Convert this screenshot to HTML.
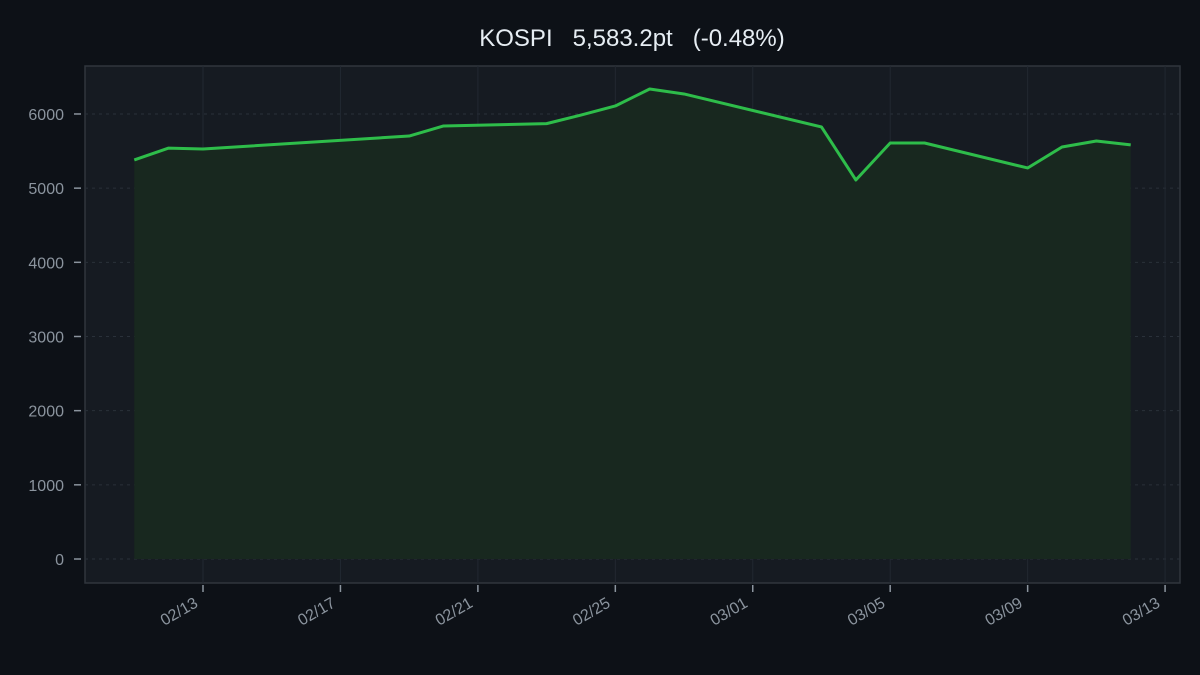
<!DOCTYPE html>
<html><head><meta charset="utf-8"><style>
html,body{margin:0;padding:0;background:#0d1117;}
svg{display:block;font-family:"Liberation Sans","Noto Sans CJK KR",sans-serif;}
</style></head><body>
<svg id="chart" width="1200" height="675">
<rect width="1200" height="675" fill="#0d1117"/>
<text x="632" y="46" fill="#e6edf3" font-size="24" text-anchor="middle" style="white-space:pre" xml:space="preserve">KOSPI   5,583.2pt   (-0.48%)</text>
<rect x="85" y="66" width="1095" height="517" fill="#161b22" stroke="#30363d" stroke-width="1.5"/>
<g id="grid"></g><g id="series"></g><g id="axes"></g>
</svg>
<script>
const dates = ["2026-02-11","2026-02-12","2026-02-13","2026-02-19","2026-02-20","2026-02-23","2026-02-24","2026-02-25","2026-02-26","2026-02-27","2026-03-03","2026-03-04","2026-03-05","2026-03-06","2026-03-09","2026-03-10","2026-03-11","2026-03-12"];
const values = [5380,5540,5528,5703,5838,5870,5985,6108,6337,6270,5825,5110,5609,5609,5272,5555,5636,5583.2];
const yTicks = [0,1000,2000,3000,4000,5000,6000];
const xTickLabels = ["02/13","02/17","02/21","02/25","03/01","03/05","03/09","03/13"];
const xTickDates = ["2026-02-13","2026-02-17","2026-02-21","2026-02-25","2026-03-01","2026-03-05","2026-03-09","2026-03-13"];
const NS="http://www.w3.org/2000/svg";
const d0=Date.UTC(2026,1,13);
function day(s){const p=s.split("-");return (Date.UTC(+p[0],+p[1]-1,+p[2])-d0)/86400000;}
function X(s){return 203+day(s)*34.36;}
function Y(v){return 559-v*0.07417;}
function mk(t,a,parent){const e=document.createElementNS(NS,t);for(const k in a)e.setAttribute(k,a[k]);document.getElementById(parent).appendChild(e);return e;}
yTicks.forEach(v=>{
  const g=mk("line",{x1:85,x2:1180,y1:Y(v),y2:Y(v),stroke:"#2a313a","stroke-dasharray":"3,4","stroke-width":1},"grid");
  
  
  const t=mk("line",{x1:74,x2:81,y1:Y(v),y2:Y(v),stroke:"#8b949e","stroke-width":1.5},"axes");
  
  
  const l=mk("text",{x:64,y:Y(v)+6,fill:"#8b949e","font-size":16,"text-anchor":"end"},"axes");
  l.textContent=v;
  
  
});
xTickDates.forEach((s,i)=>{
  const x=X(s);
  const g=mk("line",{x1:x,x2:x,y1:66,y2:583,stroke:"#222831","stroke-width":1},"grid");
  
  
  const t=mk("line",{x1:x,x2:x,y1:585,y2:592,stroke:"#8b949e","stroke-width":1.5},"axes");
  
  
  const lx=x-4, ly=606;
  const l=mk("text",{x:lx,y:ly,fill:"#8b949e","font-size":16,"text-anchor":"end",transform:`rotate(-30 ${lx} ${ly})`},"axes");
  l.textContent=xTickLabels[i];
  
  
});
const pts=dates.map((s,i)=>[X(s),Y(values[i])]);
let area="M"+pts[0][0]+","+Y(0)+" "+pts.map(p=>"L"+p[0]+","+p[1]).join(" ")+" L"+pts[pts.length-1][0]+","+Y(0)+"Z";
const a=mk("path",{d:area,fill:"#18281f"},"series");


const ln=mk("polyline",{points:pts.map(p=>p.join(",")).join(" "),fill:"none",stroke:"#2ebd4a","stroke-width":3,"stroke-linejoin":"round"},"series");


</script>
</body></html>
